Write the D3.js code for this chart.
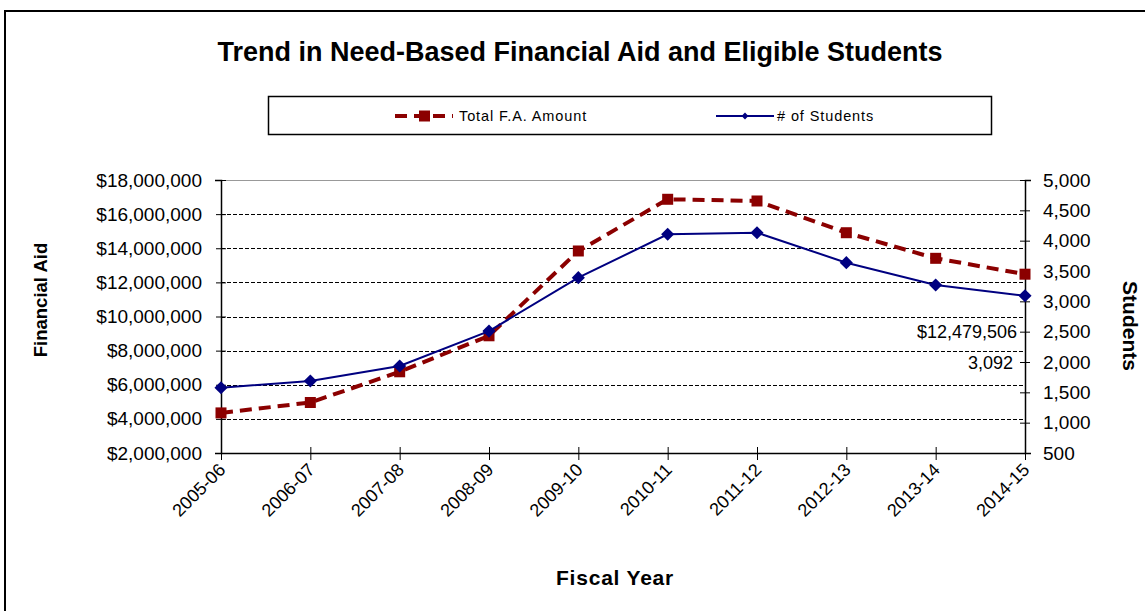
<!DOCTYPE html>
<html>
<head>
<meta charset="utf-8">
<script src="https://cdn.jsdelivr.net/npm/d3@7"></script>
<style>
  html, body { margin: 0; padding: 0; background: #fff; }
  svg { display: block; }
  text { font-family: Arial, "Liberation Sans", sans-serif; fill: #000; }
</style>
</head>
<body>
<svg id="chart" width="1145" height="611"></svg>
<script>
// Fiscal years on the category axis
const fiscalYears = ["2005-06", "2006-07", "2007-08", "2008-09", "2009-10",
                     "2010-11", "2011-12", "2012-13", "2013-14", "2014-15"];
// Total need-based financial aid, dollars
const aidAmount = [4350000, 4960000, 6760000, 8870000, 13840000,
                   16870000, 16770000, 14910000, 13410000, 12479506];
// Number of eligible students
const studentCount = [1576, 1686, 1935, 2510, 3390,
                      4105, 4131, 3637, 3269, 3092];
// Axis tick values
const aidTicks = [2000000, 4000000, 6000000, 8000000, 10000000,
                  12000000, 14000000, 16000000, 18000000];
const studentTicks = [500, 1000, 1500, 2000, 2500, 3000, 3500, 4000, 4500, 5000];

const svg = d3.select("#chart");
const red = "#8b0000", navy = "#000080";
const FONT = "Arial, 'Liberation Sans', sans-serif";

// outer frame
svg.append("rect").attr("x", 5).attr("y", 11).attr("width", 1160).attr("height", 620)
  .attr("fill", "none").attr("stroke", "#000").attr("stroke-width", 2);

const plot = { left: 221, right: 1025, top: 180, bottom: 453 };

const x = d3.scalePoint().domain(fiscalYears).range([plot.left, plot.right]);
const yAid = d3.scaleLinear().domain([2000000, 18000000]).range([plot.bottom, plot.top]);
const yStu = d3.scaleLinear().domain([500, 5000]).range([plot.bottom, plot.top]);

// title
svg.append("text").attr("x", 580).attr("y", 61).attr("text-anchor", "middle")
  .attr("font-size", 27).attr("font-weight", "bold")
  .text("Trend in Need-Based Financial Aid and Eligible Students");

// gridlines
svg.append("g").selectAll("line").data(aidTicks.filter(d => d < 18000000 && d > 2000000))
  .join("line")
  .attr("x1", plot.left).attr("x2", plot.right)
  .attr("y1", d => Math.round(yAid(d)) + 0.5).attr("y2", d => Math.round(yAid(d)) + 0.5)
  .attr("stroke", "#000").attr("stroke-width", 1).attr("stroke-dasharray", "4,2");
svg.append("line").attr("x1", plot.left).attr("x2", plot.right)
  .attr("y1", plot.top + 0.5).attr("y2", plot.top + 0.5)
  .attr("stroke", "#999").attr("stroke-width", 1);

// left axis
const leftAxis = d3.axisLeft(yAid).tickValues(aidTicks)
  .tickFormat(d => "$" + d3.format(",")(d)).tickSize(6).tickPadding(13);
const gL = svg.append("g").attr("transform", `translate(${plot.left},0)`).call(leftAxis);
gL.select(".domain").attr("stroke-width", 1.5);
gL.selectAll(".tick line").attr("x2", -5).attr("x1", 5);
gL.selectAll("text").attr("font-size", 19).attr("font-family", FONT);

// right axis
const rightAxis = d3.axisRight(yStu).tickValues(studentTicks)
  .tickFormat(d3.format(",")).tickSize(6).tickPadding(12);
const gR = svg.append("g").attr("transform", `translate(${plot.right},0)`).call(rightAxis);
gR.select(".domain").attr("stroke-width", 1.5);
gR.selectAll(".tick line").attr("x1", -5).attr("x2", 5);
gR.selectAll("text").attr("font-size", 19).attr("font-family", FONT);

// bottom axis
const bottomAxis = d3.axisBottom(x).tickSize(6).tickSizeOuter(0);
const gB = svg.append("g").attr("transform", `translate(0,${plot.bottom})`).call(bottomAxis);
gB.select(".domain").attr("stroke-width", 1.5);
gB.selectAll(".tick line").attr("y1", -6).attr("y2", 7);
gB.selectAll("text")
  .attr("font-size", 18).attr("font-family", FONT)
  .attr("text-anchor", "end").attr("dy", null).attr("y", 0)
  .attr("transform", "translate(5,18) rotate(-45)");

// aid series: dashed line with square markers
svg.append("path").datum(aidAmount)
  .attr("fill", "none").attr("stroke", red).attr("stroke-width", 4)
  .attr("stroke-dasharray", "12,7")
  .attr("d", d3.line().x((d, i) => x(fiscalYears[i])).y(d => yAid(d)));
svg.append("g").selectAll("rect").data(aidAmount).join("rect")
  .attr("x", (d, i) => x(fiscalYears[i]) - 5.5).attr("y", d => yAid(d) - 5.5)
  .attr("width", 11).attr("height", 11).attr("fill", red);

// student series: solid line with diamond markers
svg.append("path").datum(studentCount)
  .attr("fill", "none").attr("stroke", navy).attr("stroke-width", 2)
  .attr("d", d3.line().x((d, i) => x(fiscalYears[i])).y(d => yStu(d)));
const diamond = d3.symbol().type(d3.symbolDiamond2).size(110);
svg.append("g").selectAll("path").data(studentCount).join("path")
  .attr("transform", (d, i) => `translate(${x(fiscalYears[i])},${yStu(d)})`)
  .attr("d", diamond).attr("fill", navy);

// value labels for the latest year
const last = fiscalYears.length - 1;
svg.append("text").attr("x", 1017).attr("y", 338).attr("text-anchor", "end")
  .attr("font-size", 18).text("$" + d3.format(",")(aidAmount[last]));
svg.append("text").attr("x", 1013).attr("y", 369).attr("text-anchor", "end")
  .attr("font-size", 18).text(d3.format(",")(studentCount[last]));

// axis titles
svg.append("text").attr("transform", "translate(47,300) rotate(-90)")
  .attr("text-anchor", "middle").attr("font-size", 18.5).attr("font-weight", "bold")
  .text("Financial Aid");
svg.append("text").attr("transform", "translate(1123,326) rotate(90)")
  .attr("text-anchor", "middle").attr("font-size", 21).attr("font-weight", "bold")
  .text("Students");
svg.append("text").attr("x", 615).attr("y", 585)
  .attr("text-anchor", "middle").attr("font-size", 21).attr("font-weight", "bold")
  .attr("letter-spacing", 0.8)
  .text("Fiscal Year");

// legend
const lg = svg.append("g");
lg.append("rect").attr("x", 268.5).attr("y", 96.5).attr("width", 723).attr("height", 38)
  .attr("fill", "#fff").attr("stroke", "#000").attr("stroke-width", 1.5);
lg.append("line").attr("x1", 395).attr("x2", 453).attr("y1", 116).attr("y2", 116)
  .attr("stroke", red).attr("stroke-width", 4).attr("stroke-dasharray", "12,7");
lg.append("rect").attr("x", 419).attr("y", 110.5).attr("width", 11).attr("height", 11).attr("fill", red);
lg.append("text").attr("x", 459).attr("y", 121).attr("font-size", 14.5)
  .attr("letter-spacing", 0.9).text("Total F.A. Amount");
lg.append("line").attr("x1", 716).attr("x2", 774).attr("y1", 116).attr("y2", 116)
  .attr("stroke", navy).attr("stroke-width", 2);
lg.append("path").attr("transform", "translate(745,116)")
  .attr("d", d3.symbol().type(d3.symbolDiamond2).size(30)).attr("fill", navy);
lg.append("text").attr("x", 777).attr("y", 121).attr("font-size", 14.5)
  .attr("letter-spacing", 0.9).text("# of Students");
</script>
</body>
</html>
